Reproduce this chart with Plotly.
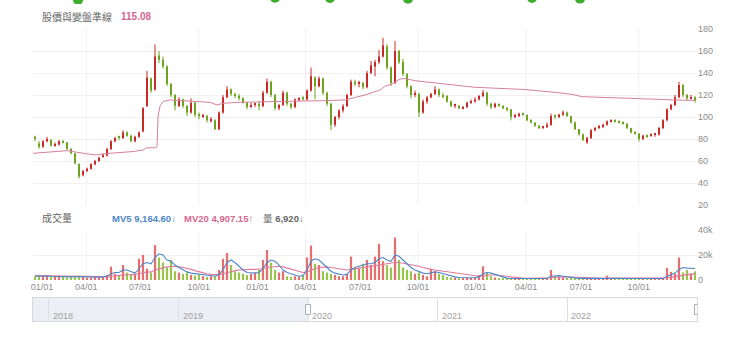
import plotly.graph_objects as go

# ---------------- data ----------------
# one candle per slot along the trading-day axis (slot index = x)
open_ = [82, 76, 73, 78, 79, 74, 75, 78, 77, 71,
         67, 57, 47, 51, 53, 57, 60, 64, 65, 71,
         78, 82, 81, 86, 83, 78, 82, 87, 110, 135,
         125, 156, 152, 146, 130, 120, 110, 116, 110, 104,
         113, 102, 100, 101, 97, 97, 89, 104, 118, 125,
         121, 119, 117, 113, 109, 111, 112, 110, 122, 132,
         120, 108, 111, 122, 112, 109, 116, 118, 116, 124,
         136, 128, 135, 122, 112, 93, 100, 106, 110, 120,
         132, 130, 131, 127, 140, 146, 150, 155, 164, 145,
         131, 160, 150, 139, 128, 120, 121, 104, 114, 118,
         121, 125, 120, 119, 114, 110, 110, 108, 109, 113,
         114, 116, 119, 122, 112, 109, 112, 110, 108, 107,
         100, 101, 103, 102, 97, 95, 92, 90, 91, 93,
         101, 100, 102, 104, 101, 95, 89, 84, 77, 81,
         88, 90, 91, 93, 96, 97, 96, 95, 94, 90,
         86, 85, 80, 83, 83, 84, 84, 90, 97, 107,
         111, 118, 129, 120, 117, 118]
close = [80, 73, 78, 80, 74, 75, 78, 77, 71, 67,
         58, 46, 51, 53, 57, 60, 63, 65, 71, 78,
         81, 81, 86, 83, 78, 82, 86, 108, 136, 124,
         155, 152, 146, 130, 120, 110, 116, 110, 104, 113,
         102, 101, 101, 97, 98, 89, 104, 118, 125, 121,
         119, 117, 113, 109, 111, 112, 110, 122, 132, 120,
         108, 111, 122, 112, 109, 116, 117, 116, 124, 137,
         128, 135, 122, 112, 93, 100, 106, 110, 120, 132,
         130, 131, 127, 140, 147, 150, 155, 165, 145, 131,
         160, 150, 139, 128, 120, 121, 104, 114, 118, 121,
         125, 120, 119, 114, 110, 111, 108, 109, 113, 114,
         116, 119, 122, 112, 109, 112, 110, 108, 107, 100,
         101, 103, 102, 97, 95, 92, 90, 91, 93, 101,
         100, 102, 104, 101, 95, 89, 84, 79, 81, 88,
         90, 91, 93, 96, 97, 96, 95, 94, 90, 86,
         85, 80, 83, 82.5, 84, 84.5, 90, 97, 107, 111,
         118, 129, 120, 117, 118, 115]
high = [83, 78, 79, 82, 80, 77, 79, 79, 77, 72,
        67, 58, 52, 54, 58, 61, 64, 67, 72, 79,
        82, 83, 88, 87, 84, 83, 87, 109, 142, 136,
        166, 160, 155, 147, 131, 121, 118, 117, 111, 117,
        114, 104, 103, 102, 100, 98, 105, 120, 128, 126,
        122, 121, 118, 114, 113, 113, 114, 124, 135, 133,
        121, 112, 124, 123, 113, 117, 118, 119, 125, 145,
        137, 137, 136, 123, 113, 101, 107, 112, 121, 134,
        134, 133, 132, 142, 151, 152, 161, 172, 166, 146,
        169, 161, 153, 140, 129, 124, 122, 116, 119, 122,
        128, 126, 122, 120, 115, 112, 111, 110, 114, 116,
        118, 120, 124.5, 123, 113, 113, 112, 111, 109, 107,
        103, 104, 104, 102, 98, 95, 93, 92, 95, 103,
        102, 103, 106, 105, 101, 96, 89, 85, 82, 89,
        91, 93, 94, 97, 98, 98, 97, 96, 94, 90,
        87, 85, 84, 84, 85, 85, 91, 98, 108, 112,
        120, 132, 130, 121, 120, 119]
low = [78, 71, 72, 77, 73, 73, 74, 76, 70, 66,
       57, 44, 46, 50, 52, 56, 59, 63, 64, 70,
       77, 79, 80, 82, 77, 77, 81, 86, 109, 122,
       124, 149, 144, 128, 118, 106, 109, 108, 101, 103,
       100, 98, 99, 95, 95, 88, 88, 103, 117, 119,
       117, 115, 112, 107, 108, 109, 106, 109, 121, 118,
       106, 106, 110, 110, 107, 108, 114, 115, 115, 123,
       116, 127, 120, 110, 88, 91, 98, 104, 109, 119,
       128, 127, 125, 126, 139, 137, 148, 154, 143, 128,
       130, 148, 137, 126, 117, 118, 100, 103, 112, 117,
       120, 118, 117, 113, 109, 108, 107, 107, 108, 112,
       113, 115, 118, 110, 107, 108, 109, 107, 105, 97,
       99, 100, 101, 96, 94, 91, 89, 89, 90, 92,
       98, 99, 101, 100, 94, 88, 83, 78, 75.5, 80,
       87, 89, 90, 92, 95, 95, 94, 93, 89, 85,
       84, 77.6, 79, 81, 82, 82, 83, 89, 96, 106,
       110, 117, 118, 115, 116, 113]

# traded volume per slot, in thousands
volume_k = [3, 4, 3, 3.5, 2.5, 2.5, 3, 2.5, 2, 2.5,
            3, 3.5, 2.5, 2, 2, 2.5, 2, 3, 4, 10.7,
            5, 4, 12, 6, 4, 5, 17, 20, 9, 6,
            28, 18, 14, 10, 16, 7, 6, 5, 6, 4,
            3.5, 4, 3, 2.5, 3, 3, 8, 17, 21.6, 12,
            7, 6, 5, 4, 5, 6, 8, 16, 24, 14,
            8, 6, 7, 3, 2.5, 3, 2.5, 4, 18, 27.5,
            13, 12, 7, 6, 5, 4, 3, 3, 5, 18.7,
            10, 9, 13, 16, 12, 18.7, 29, 15, 12, 10,
            34, 16, 10, 8, 7, 5, 6, 4, 3, 9,
            7, 5, 4, 2.5, 2, 2, 1.5, 1.5, 2, 1.5,
            2, 4, 11, 6, 3, 2, 1.5, 1.5, 1, 1.2,
            1, 1.2, 1, 1.1, 1, 1.2, 1, 1.1, 1.3, 8,
            3, 2.5, 2, 1.5, 1.2, 1, 1.1, 1, 1.2, 1.3,
            1, 1.2, 1.1, 3.5, 1.2, 1, 1.1, 1, 1.2, 1,
            1.1, 1, 1.2, 1, 1.1, 1, 1.2, 1.3, 9.6, 6.5,
            5, 17.9, 6, 8, 5, 6.92]
mv5_k = [3, 3.2, 3.3, 3.2, 3, 2.8, 2.7, 2.7, 2.6, 2.5,
         2.6, 2.8, 2.9, 2.7, 2.4, 2.2, 2.3, 2.5, 3, 5,
         6, 6, 8, 8, 6.5, 5.5, 9, 13, 14, 13,
         18, 21, 20, 16, 15, 12, 10, 8, 6.5, 5.5,
         5, 4.5, 4, 3.5, 3.2, 3, 4.5, 8, 14, 16,
         14, 11, 8, 6, 5.5, 5.5, 6, 9, 14, 16,
         15, 12, 8, 6, 5, 4, 3, 3.5, 8, 15,
         17, 16, 13, 10, 7, 5.5, 4.5, 4, 4.5, 8,
         10, 11, 12, 13, 13, 14, 17, 18, 16, 15,
         20, 19, 16, 13, 10, 8, 6.5, 5.5, 5, 6,
         6.5, 6, 5, 4, 3, 2.5, 2, 1.8, 1.8, 1.8,
         2, 2.5, 5, 6, 5.5, 4.5, 3, 2, 1.5, 1.2,
         1.2, 1.2, 1.2, 1.2, 1.2, 1.2, 1.2, 1.2, 1.2, 3,
         3.5, 3.5, 3, 2.5, 1.8, 1.3, 1.3, 1.3, 1.3, 1.3,
         1.3, 1.3, 1.3, 1.8, 1.8, 1.2, 1.2, 1.2, 1.2, 1.2,
         1.2, 1.2, 1.2, 1.2, 1.2, 1.2, 1.2, 1.2, 3, 4.5,
         5.5, 8.5, 10, 9.5, 9.3, 9.1646]
mv20_k = [3.8, 3.8, 3.7, 3.6, 3.5, 3.4, 3.3, 3.2, 3.1, 3,
          3, 3, 2.9, 2.9, 2.8, 2.7, 2.7, 2.7, 2.8, 3.2,
          3.4, 3.5, 4, 4.2, 4.3, 4.5, 5, 6, 6.3, 6.5,
          8, 9, 10, 10.5, 11, 11, 10.5, 10, 9.5, 8.5,
          7.5, 6.5, 5.5, 5, 4.5, 4.2, 4.3, 5, 6, 7,
          7.5, 8, 8.3, 8.5, 8.5, 8.5, 8.7, 9, 10, 10.5,
          11, 11, 10.5, 9.5, 8.5, 7.5, 6.5, 6, 6.5, 8,
          9, 10, 10.5, 10.5, 10, 9.5, 9, 8.5, 8, 8.5,
          9, 9.5, 10, 10.5, 11, 11.5, 12.5, 13, 13.5, 13.5,
          14, 14, 13.5, 13, 12.5, 12, 11, 10, 9, 8.5,
          8, 7.5, 7, 6.5, 6, 5.5, 5, 4.5, 4, 3.5,
          3, 3, 3.5, 4, 4, 4, 3.8, 3.5, 3, 2.5,
          2, 1.8, 1.6, 1.4, 1.4, 1.4, 1.4, 1.4, 1.4, 1.8,
          2.2, 2.5, 2.5, 2.5, 2.4, 2.2, 2, 1.8, 1.6, 1.4,
          1.4, 1.4, 1.4, 1.5, 1.5, 1.3, 1.3, 1.3, 1.3, 1.3,
          1.3, 1.3, 1.3, 1.3, 1.3, 1.3, 1.3, 1.3, 1.8, 2.3,
          2.8, 3.6, 4, 4.4, 4.7, 4.90715]

# reference line drawn over the candles (slot position, price)
guide_x = [-0.5, 3.75, 8, 11.25, 15, 18.75, 24.5, 27, 28, 30, 30.5, 30.75,
           31.25, 32, 33.75, 38.75, 43.75, 45.5, 47, 50.5, 56.25, 66.25,
           71.75, 77.5, 82.5, 86.25, 87.5, 89.25, 91.25, 92.5, 95, 100, 105,
           110, 116.25, 122.5, 130, 134.25, 136.75, 141.25, 147.5, 153.75,
           160, 165]
guide_y = [67, 68, 69.4, 67.5, 65.5, 67, 68.6, 70, 72, 72, 73, 100,
           110, 114, 115.5, 114.5, 113.3, 111, 112.4, 113.3, 113.5, 114.5,
           114.8, 115.5, 120, 124.5, 128, 130, 134.5, 135, 133, 131, 129,
           127, 126, 125, 122.4, 120.6, 118.5, 117.8, 117, 116.2,
           115.5, 115.08]

# signal markers in the strip above the price panel
signal_x = [10.75, 60, 73.75, 93.25, 124.25, 136.25]
signal_y = [1.0, 1.55, 1.5, 1.3, 1.5, 1.35]

# bottom axis labels (quarter starts) and navigator years
tick_pos = [1.75, 12.83, 26.33, 40.93, 55.63, 67.63, 81.33, 95.75,
            110.08, 122.75, 136.5, 150.93]
tick_text = ["01/01", "04/01", "07/01", "10/01"] * 3
grid_pos = tick_pos[1::2]
year_ticks = ["2018-01-01", "2019-01-01", "2020-01-01", "2021-01-01", "2022-01-01"]
year_text = ["2018", "2019", "2020", "2021", "2022"]
nav_range = ["2017-11-17", "2023-01-01"]
window_start = "2020-01-01"

price_ticks = [20, 40, 60, 80, 100, 120, 140, 160, 180]
vol_ticks = [0, 20, 40]
vol_ticktext = ["0", "20k", "40k"]

# ---------------- styling ----------------
W, H = 740, 337
ML, MR = 33, 43
RED, GREEN = "#c82a29", "#6ea31f"
VOL_RED, VOL_GREEN = "#e2605f", "#8fbe3e"
GUIDE = "#d6819f"
BLUE = "#4f86c8"
PINK = "#e07a9c"
GRID = "#f0f0f0"
AXIS_TXT = "#8c8c8c"
FONT = "Liberation Sans, Noto Sans CJK TC, sans-serif"


def dom(top_px, bottom_px):
    return [(H - bottom_px) / H, (H - top_px) / H]


def px_x(px):
    return (px - ML) / (W - ML - MR)


def px_y(py):
    return (H - py) / H


n = len(close)
slots = list(range(n))
x_range = [-0.5, n - 0.5]
rising = [c >= o for o, c in zip(open_, close)]

fig = go.Figure()

# candles: wicks as vertical segments, bodies as floating bars
for up, color in ((True, RED), (False, GREEN)):
    wx, wy = [], []
    for i in slots:
        if rising[i] == up:
            wx += [i, i, None]
            wy += [low[i], high[i], None]
    fig.add_trace(go.Scatter(x=wx, y=wy, mode="lines",
                             line=dict(color=color, width=1),
                             xaxis="x", yaxis="y", hoverinfo="skip"))

fig.add_trace(go.Bar(
    x=slots,
    y=[max(abs(c - o), 0.6) for o, c in zip(open_, close)],
    base=[min(o, c) for o, c in zip(open_, close)],
    width=0.5,
    marker=dict(color=[RED if r else GREEN for r in rising], line=dict(width=0)),
    xaxis="x", yaxis="y", hoverinfo="skip",
))

fig.add_trace(go.Scatter(
    x=guide_x, y=guide_y, mode="lines", line=dict(color=GUIDE, width=1),
    xaxis="x", yaxis="y", hoverinfo="skip",
))

fig.add_trace(go.Bar(
    x=slots, y=volume_k,
    marker=dict(color=[VOL_RED if r else VOL_GREEN for r in rising],
                line=dict(width=0)),
    width=0.55, opacity=0.9, xaxis="x2", yaxis="y2", hoverinfo="skip",
))
fig.add_trace(go.Scatter(
    x=slots, y=mv20_k, mode="lines", line=dict(color=PINK, width=1.1),
    xaxis="x2", yaxis="y2", hoverinfo="skip",
))
fig.add_trace(go.Scatter(
    x=slots, y=mv5_k, mode="lines", line=dict(color=BLUE, width=1.1),
    xaxis="x2", yaxis="y2", hoverinfo="skip",
))

# signal dots sit mostly above the strip; the strip clips them
fig.add_trace(go.Scatter(
    x=signal_x, y=signal_y, mode="markers",
    marker=dict(color="#3cae2a", size=10), cliponaxis=True,
    xaxis="x4", yaxis="y4", hoverinfo="skip",
))

# invisible trace to establish the navigator axes
fig.add_trace(go.Scatter(
    x=nav_range, y=[0.5, 0.5], mode="lines", line=dict(width=0),
    xaxis="x3", yaxis="y3", hoverinfo="skip",
))

tickfont = dict(family=FONT, size=9, color=AXIS_TXT)

fig.update_layout(
    width=W, height=H,
    margin=dict(l=ML, r=MR, t=0, b=0, autoexpand=False),
    paper_bgcolor="white", plot_bgcolor="white",
    showlegend=False, barmode="overlay",
    font=dict(family=FONT),
    xaxis=dict(domain=[0, 1], anchor="y", range=x_range,
               showticklabels=False, showgrid=False, zeroline=False,
               automargin=False, fixedrange=True),
    yaxis=dict(domain=dom(29, 205), anchor="x", side="right",
               range=[20, 180], tickvals=price_ticks, ticks="",
               showgrid=True, gridcolor=GRID, zeroline=False,
               tickfont=tickfont, automargin=False, fixedrange=True),
    xaxis2=dict(domain=[0, 1], anchor="y2", range=x_range,
                tickvals=tick_pos, ticktext=tick_text, ticks="",
                showgrid=False, zeroline=False, tickfont=tickfont,
                automargin=False, fixedrange=True),
    yaxis2=dict(domain=dom(230, 280), anchor="x2", side="right",
                range=[0, 40], tickvals=vol_ticks, ticktext=vol_ticktext,
                ticks="", showgrid=True, gridcolor=GRID, zeroline=False,
                tickfont=tickfont, automargin=False, fixedrange=True),
    xaxis3=dict(domain=[0, 1], anchor="y3", type="date", range=nav_range,
                tickvals=year_ticks, showticklabels=False, ticks="",
                showgrid=True, gridcolor="#dde0e5", zeroline=False,
                showline=True, linecolor="#d5d9de", mirror=True,
                automargin=False, fixedrange=True),
    yaxis3=dict(domain=dom(298, 321), anchor="x3", range=[0, 1],
                showticklabels=False, showgrid=False, zeroline=False,
                showline=True, linecolor="#d5d9de", mirror=True,
                automargin=False, fixedrange=True),
    xaxis4=dict(domain=[0, 1], anchor="y4", range=x_range, visible=False,
                fixedrange=True),
    yaxis4=dict(domain=dom(0, 4), anchor="x4", side="right", range=[0, 1],
                tickvals=[0], ticktext=["0"], ticks="", showgrid=True,
                gridcolor="#ececec", zeroline=False, tickfont=tickfont,
                automargin=False, fixedrange=True),
)

# half-year vertical grid lines in both panels
for g in grid_pos:
    for xref, yref in (("x", "y domain"), ("x2", "y2 domain")):
        fig.add_shape(type="line", xref=xref, yref=yref, x0=g, x1=g,
                      y0=0, y1=1, line=dict(color=GRID, width=1),
                      layer="below")

# navigator: shaded part outside the visible window, year labels, handles
fig.add_shape(type="rect", xref="x3", yref="y3",
              x0=nav_range[0], x1=window_start, y0=0, y1=1,
              fillcolor="#eceff3", line=dict(width=0), layer="below")
for yt, txt in zip(year_ticks, year_text):
    fig.add_annotation(xref="x3", yref="paper", x=yt, y=px_y(315.5),
                       xanchor="left", yanchor="middle", xshift=2,
                       showarrow=False, text=txt,
                       font=dict(family=FONT, size=9, color="#a0a0a0"))
for anchor in (window_start, nav_range[1]):
    fig.add_shape(type="rect", xref="x3", yref="y3",
                  xsizemode="pixel", xanchor=anchor, x0=-2.5, x1=2.5,
                  ysizemode="pixel", yanchor=0.5, y0=-5, y1=5,
                  fillcolor="white", line=dict(color="#a9aeb5", width=1),
                  layer="above")


# panel captions
def caption(px, py, text, color, size=10):
    fig.add_annotation(xref="paper", yref="paper", x=px_x(px), y=px_y(py),
                       xanchor="left", yanchor="middle", showarrow=False,
                       text=text, font=dict(family=FONT, size=size, color=color))


caption(40, 17, "股價與變盤準線", "#666666")
caption(119, 17, f"<b>{guide_y[-1]:.2f}</b>", "#d4668e")
caption(40, 218, "成交量", "#666666")
caption(110, 218, f"<b>MV5 {mv5_k[-1] * 1000:,.2f}</b>↓", BLUE, 9.5)
caption(182, 218, f"<b>MV20 {mv20_k[-1] * 1000:,.2f}</b>↑", "#d4668e", 9.5)
caption(261, 218, f"量 <b>{volume_k[-1] * 1000:,.0f}</b>↓", "#666666", 9.5)

fig.write_html("out.html")
